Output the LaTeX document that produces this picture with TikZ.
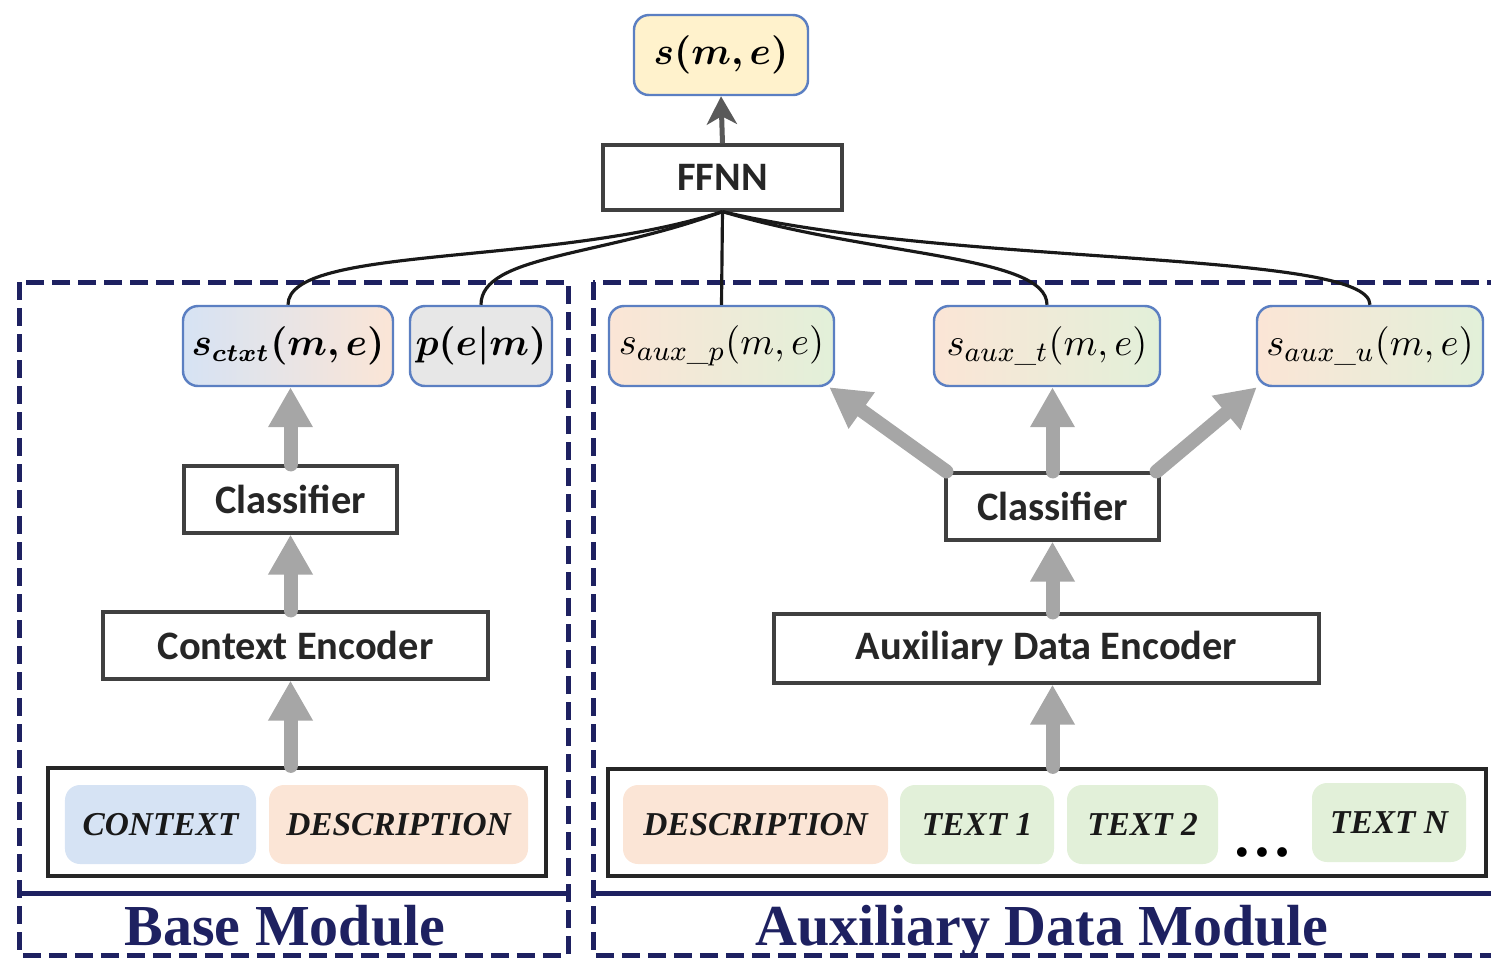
\documentclass[tikz,border=0pt]{standalone}
\usepackage{amsmath}
\usepackage{bm}
\usepackage{fontspec}
\setsansfont{Carlito}
\newfontfamily\timesfont{Liberation Serif}
\usetikzlibrary{arrows.meta, positioning, calc}
\definecolor{navy}{HTML}{1E2161}
\definecolor{boxblue}{HTML}{5B7FC2}
\definecolor{lightyellow}{HTML}{FFF2CC}
\definecolor{lightblue}{HTML}{D6E3F4}
\definecolor{lightpeach}{HTML}{FBE5D6}
\definecolor{lightgreen}{HTML}{E2F0D9}
\definecolor{lightgray}{HTML}{E7E7E7}
\definecolor{arrowgray}{HTML}{A6A6A6}
\definecolor{darkgray}{HTML}{595959}

\tikzset{
  block/.style={draw=black!75, line width=0.9pt, fill=white, inner sep=0pt,
    font=\sffamily\bfseries\fontsize{11.5}{13}\selectfont, text=black!85},
  scorebox/.style={draw=boxblue, line width=0.7pt, rounded corners=0.15cm,
    inner sep=0pt, minimum height=0.8cm, font=\fontsize{10.5}{13}\selectfont},
  auxbox/.style={scorebox, left color=lightpeach, right color=lightgreen,
    minimum width=2.26cm, font=\fontsize{11}{13}\selectfont},
  chip/.style={rounded corners=0.15cm, inner sep=0pt, minimum height=0.79cm,
    font=\timesfont\bfseries\itshape\fontsize{9.5}{11}\selectfont, text=black!90},
  inbox/.style={draw=black!85, line width=1.2pt, inner sep=0pt},
  fat/.style={draw=arrowgray, line width=0.14cm, line cap=round,
    -{Triangle[length=0.4cm,width=0.42cm]}},
  link/.style={draw=black!90, line width=0.9pt},
  module/.style={draw=navy, line width=0.05cm, dash pattern=on 0.18cm off 0.08cm},
  modlabel/.style={font=\timesfont\bfseries\fontsize{16.5}{18}\selectfont, text=navy, anchor=base},
}

\begin{document}
\begin{tikzpicture}
  \useasboundingbox (0,0) rectangle (14.91,-9.57);
  \clip (0,0) rectangle (14.91,-9.57);

  % module frames
  \draw[module] (0.20,-2.82) rectangle (5.68,-9.55);
  \draw[navy, line width=0.05cm] (0.20,-8.93) -- (5.68,-8.93);
  \draw[module] (5.93,-2.82) rectangle (15.2,-9.55);
  \draw[navy, line width=0.05cm] (5.93,-8.93) -- (15.2,-8.93);
  \node[modlabel] (baselbl) at (2.85,-9.45) {Base Module};
  \node[modlabel] (auxlbl) at (10.42,-9.45) {Auxiliary Data Module};

  % top
  \node[scorebox, fill=lightyellow, minimum width=1.74cm, font=\fontsize{11}{13}\selectfont] (sme) at (7.21,-0.55) {$\bm{s(m,e)}$};
  \node[block, minimum width=2.39cm, minimum height=0.65cm] (ffnn) at (7.225,-1.775) {FFNN};

  % scores
  \node[scorebox, left color=lightblue, right color=lightpeach, minimum width=2.10cm] (sctxt) at (2.88,-3.46) {$\bm{s_{ctxt}(m,e)}$};
  \node[scorebox, fill=lightgray, minimum width=1.42cm] (pem) at (4.81,-3.46) {$\bm{p(e|m)}$};
  \node[auxbox, minimum width=2.25cm] (saup) at (7.215,-3.46) {$s_{aux\_p}(m,e)$};
  \node[auxbox] (saut) at (10.47,-3.46) {$s_{aux\_t}(m,e)$};
  \node[auxbox] (sauu) at (13.70,-3.46) {$s_{aux\_u}(m,e)$};

  % base module
  \node[block, minimum width=2.13cm, minimum height=0.67cm] (clsL) at (2.905,-4.995) {Classifier};
  \node[block, minimum width=3.85cm, minimum height=0.67cm] (encL) at (2.955,-6.455) {Context Encoder};
  \node[inbox, minimum width=4.98cm, minimum height=1.08cm] (inL) at (2.97,-8.22) {};
  \node[chip, fill=lightblue, minimum width=1.91cm] (ctx) at (1.605,-8.245) {CONTEXT};
  \node[chip, fill=lightpeach, minimum width=2.59cm] (descL) at (3.985,-8.245) {DESCRIPTION};

  % auxiliary module
  \node[block, minimum width=2.13cm, minimum height=0.67cm] (clsR) at (10.525,-5.065) {Classifier};
  \node[block, minimum width=5.45cm, minimum height=0.69cm] (encR) at (10.465,-6.485) {Auxiliary Data Encoder};
  \node[inbox, minimum width=8.78cm, minimum height=1.07cm] (inR) at (10.47,-8.225) {};
  \node[chip, fill=lightpeach, minimum width=2.65cm] (descR) at (7.555,-8.245) {DESCRIPTION};
  \node[chip, fill=lightgreen, minimum width=1.54cm] (txt1) at (9.77,-8.245) {TEXT 1};
  \node[chip, fill=lightgreen, minimum width=1.51cm] (txt2) at (11.425,-8.245) {TEXT 2};
  \node[anchor=base, font=\timesfont\bfseries\fontsize{17}{17}\selectfont] (dots) at (12.62,-8.56) {\textellipsis};
  \node[chip, fill=lightgreen, minimum width=1.54cm] (txtN) at (13.89,-8.225) {TEXT N};

  % gray arrows
  \draw[fat] (inL.north -| clsL) -- (encL.south -| clsL);
  \draw[fat] (encL.north -| clsL) -- (clsL.south);
  \draw[fat] (clsL.north) -- (sctxt.south -| clsL);
  \draw[fat] (inR.north -| clsR) -- (encR.south -| clsR);
  \draw[fat] (encR.north -| clsR) -- (clsR.south);
  \draw[fat] (clsR.north) -- (saut.south -| clsR);
  \draw[fat] ([xshift=0.02cm]clsR.north west) -- ([xshift=-0.06cm]saup.south east);
  \draw[fat] ([xshift=-0.04cm]clsR.north east) -- ([xshift=0.01cm]sauu.south west);

  % to ffnn
  \draw[link] (ffnn.south) .. controls +(-1.7,-0.55) and +(0,0.6) .. (sctxt.north);
  \draw[link] (ffnn.south) .. controls +(-1.2,-0.45) and +(0,0.5) .. (pem.north);
  \draw[link] (ffnn.south) -- (saup.north);
  \draw[link] (ffnn.south) .. controls +(1.5,-0.45) and +(0,0.5) .. (saut.north);
  \draw[link] (ffnn.south) .. controls +(2.3,-0.55) and +(0,0.55) .. (sauu.north);
  \draw[darkgray, line width=0.05cm, -{Stealth[length=0.28cm,width=0.3cm,inset=0.08cm]}] (ffnn.north) -- (sme.south);
\end{tikzpicture}
\end{document}
